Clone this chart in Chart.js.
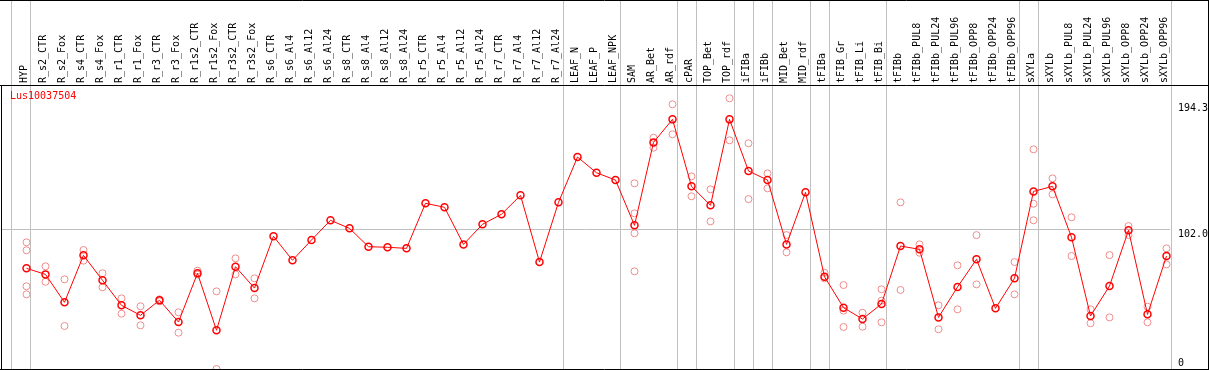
<!DOCTYPE html>
<html><head><meta charset="utf-8">
<script src="https://cdn.jsdelivr.net/npm/chart.js@4/dist/chart.umd.min.js"></script>
<style>html,body{margin:0;padding:0;background:#fff;} canvas{display:block;}</style>
</head><body>
<canvas id="c" width="1209" height="370"></canvas>
<script>
const geneId = 'Lus10037504';
const categories = ['HYP','R_s2_CTR','R_s2_Fox','R_s4_CTR','R_s4_Fox','R_r1_CTR','R_r1_Fox','R_r3_CTR','R_r3_Fox','R_r1s2_CTR','R_r1s2_Fox','R_r3s2_CTR','R_r3s2_Fox','R_s6_CTR','R_s6_Al4','R_s6_Al12','R_s6_Al24','R_s8_CTR','R_s8_Al4','R_s8_Al12','R_s8_Al24','R_r5_CTR','R_r5_Al4','R_r5_Al12','R_r5_Al24','R_r7_CTR','R_r7_Al4','R_r7_Al12','R_r7_Al24','LEAF_N','LEAF_P','LEAF_NPK','SAM','AR_Bet','AR_rdf','cPAR','TOP_Bet','TOP_rdf','iFIBa','iFIBb','MID_Bet','MID_rdf','tFIBa','tFIB_Gr','tFIB_Li','tFIB_Bi','tFIBb','tFIBb_PUL8','tFIBb_PUL24','tFIBb_PUL96','tFIBb_OPP8','tFIBb_OPP24','tFIBb_OPP96','sXYLa','sXYLb','sXYLb_PUL8','sXYLb_PUL24','sXYLb_PUL96','sXYLb_OPP8','sXYLb_OPP24','sXYLb_OPP96'];
const meanValues = [73.5,69.1,48.7,83.0,64.8,46.5,39.2,50.2,34.3,69.9,28.3,74.7,59.1,96.9,79.4,94.2,108.6,102.7,89.3,88.9,88.1,121.0,118.1,91.0,105.7,113.0,126.8,78.1,121.7,154.8,143.3,138.0,104.9,165.5,182.3,133.4,119.5,182.3,144.6,138.0,91.0,129.0,67.4,44.8,36.5,47.5,89.8,87.4,37.7,59.9,80.1,44.3,66.2,129.7,133.4,96.2,38.7,60.6,101.3,39.9,82.5];
const replicateValues = [
  [92.5,86.7,60.4,54.5],[75.0,63.7],[65.5,31.4],[86.9,79.1],[69.9,59.7],[51.6,40.4],[45.8,31.9],[50.9,49.4],[41.4,26.5],[71.8,68.9],
  [56.7,0.0],[80.8,69.1],[66.2,51.6],[],[],[],[],[],[],[],
  [],[],[],[],[],[],[],[],[],[],
  [],[],[135.6,113.7,99.1,71.3],[168.9,161.6],[193.3,171.4],[140.7,126.1],[131.2,107.8],[197.7,167.0],[164.8,124.1],[142.9,131.9],
  [97.8,85.2],[],[70.3,66.2],[61.3,42.6,30.7],[41.1,30.9],[58.2,49.9,34.1],[121.7,57.7],[91.0,84.9],[46.5,29.0],[75.7,43.6],
  [97.8,61.8],[],[78.1,54.5],[160.4,120.7,108.6],[139.2,127.6],[110.8,82.5],[43.6,33.4],[83.2,37.7],[104.4,97.8],[45.5,34.1],
  [88.1,76.4]
];
const yTickValues = [0, 102.0, 194.3];
const yTickLabels = ['0', '102.0', '194.3'];
const groupEnds = [-1, 0, 28, 31, 34, 35, 37, 38, 39, 41, 42, 45, 52, 53, 60];

const meanPoints = meanValues.map((v, i) => ({x: i, y: v}));
const repPoints = [];
replicateValues.forEach((arr, i) => arr.forEach(v => repPoints.push({x: i, y: v})));

const MONO = 'DejaVu Sans Mono';

const decorPlugin = {
  id: 'decor',
  beforeDatasetsDraw(chart) {
    const c = chart.ctx, xs = chart.scales.x, a = chart.chartArea;
    c.save();
    c.strokeStyle = '#c0c0c0';
    c.lineWidth = 1;
    groupEnds.forEach(i => {
      const px = Math.round(xs.getPixelForValue(i) + 4) + 0.5;
      c.beginPath(); c.moveTo(px, 0); c.lineTo(px, a.bottom); c.stroke();
    });
    c.restore();
  },
  afterDraw(chart) {
    const c = chart.ctx, a = chart.chartArea, W = chart.width;
    c.save();
    c.strokeStyle = '#000';
    c.lineWidth = 1;
    c.beginPath();
    c.moveTo(0, 0.5); c.lineTo(W, 0.5);
    c.moveTo(0, a.top + 0.5); c.lineTo(W, a.top + 0.5);
    c.moveTo(0, a.bottom + 0.5); c.lineTo(W, a.bottom + 0.5);
    c.moveTo(1.5, a.top); c.lineTo(1.5, a.bottom + 1);
    c.moveTo(W - 0.5, 0); c.lineTo(W - 0.5, a.bottom + 1);
    c.stroke();
    c.fillStyle = '#ff0000';
    c.font = '10px "' + MONO + '"';
    c.textBaseline = 'middle';
    c.textAlign = 'left';
    c.fillText(geneId, a.left + 9, a.top + 11);
    c.restore();
  }
};

new Chart(document.getElementById('c'), {
  type: 'scatter',
  data: { datasets: [
    { label: 'mean', data: meanPoints, showLine: true, borderColor: '#ff0000', borderWidth: 1,
      pointRadius: 3.5, pointBorderWidth: 1.5, pointBorderColor: '#ff0000', pointBackgroundColor: 'rgba(0,0,0,0)', order: 0, clip: false },
    { label: 'replicates', data: repPoints, showLine: false,
      pointRadius: 3.5, pointBorderWidth: 1, pointBorderColor: 'rgb(240,140,140)', pointBackgroundColor: 'rgba(0,0,0,0)', order: 1, clip: false }
  ]},
  options: {
    responsive: false, animation: false, devicePixelRatio: 1,
    layout: { autoPadding: false, padding: { left: 1, right: 0, top: 0, bottom: 1 } },
    plugins: { legend: { display: false }, tooltip: { enabled: false } },
    scales: {
      x: {
        type: 'linear', position: 'top', min: -1.342, max: 60.184,
        afterBuildTicks: s => { s.ticks = categories.map((_, i) => ({value: i})); },
        afterFit: s => { s.height = 85; s.paddingLeft = 0; s.paddingRight = 0; s.paddingTop = 0; s.paddingBottom = 0; },
        grid: { display: false, drawTicks: false },
        border: { display: false },
        ticks: { autoSkip: false, minRotation: 90, maxRotation: 90, padding: 2, labelOffset: 10, color: '#000',
          font: { family: MONO, size: 10 }, callback: v => categories[v] }
      },
      y: {
        position: 'right', min: 0, max: 207.4,
        afterBuildTicks: s => { s.ticks = yTickValues.map(v => ({value: v})); },
        afterFit: s => { s.width = 39; s.paddingLeft = 0; s.paddingRight = 0; s.paddingTop = 0; s.paddingBottom = 0; },
        grid: { drawTicks: false, lineWidth: 1,
          color: c => (c.tick && c.tick.value === 102) ? '#c0c0c0' : 'rgba(0,0,0,0)' },
        border: { display: false },
        ticks: { padding: 8, labelOffset: 5.5, color: '#000',
          font: { family: MONO, size: 10, lineHeight: 2.3 },
          callback: v => { const t = yTickLabels[yTickValues.indexOf(v)]; return v === 0 ? [t, ''] : t; } }
      }
    }
  },
  plugins: [decorPlugin]
});
</script>
</body></html>
